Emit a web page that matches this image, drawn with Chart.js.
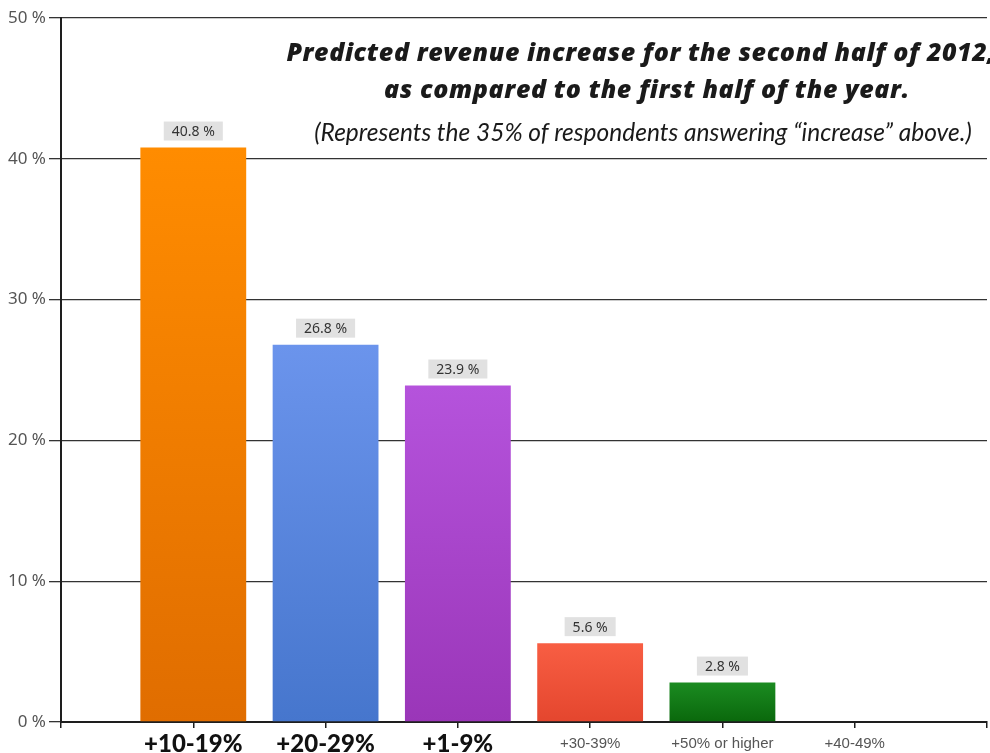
<!DOCTYPE html>
<html>
<head>
<meta charset="utf-8">
<title>Predicted revenue increase</title>
<script src="https://cdn.jsdelivr.net/npm/chart.js@4/dist/chart.umd.min.js"></script>
<style>
  html, body { margin: 0; padding: 0; background: #fff; }
  #wrap { position: relative; width: 990px; height: 753px; overflow: hidden; }
  #revChart { position: absolute; left: 0; top: 0; }
  .note { position: absolute; left: 150px; width: 990px; text-align: center; white-space: nowrap; color: #1a1a1a; font-style: italic; }
  .note.big { font-family: "Open Sans", Lato, sans-serif; font-weight: 800; font-size: 25px; letter-spacing: 0.6px; }
  #line1 { top: 34px; left: 146px; }
  #line2 { top: 71px; left: 152px; }
  #line3 { top: 117px; left: 148px; font-family: Lato, "Open Sans", sans-serif; font-size: 24.5px; font-weight: 400; }
</style>
</head>
<body>
<div id="wrap">
  <canvas id="revChart" width="990" height="753"></canvas>
  <div class="note big" id="line1">Predicted revenue increase for the second half of 2012,</div>
  <div class="note big" id="line2">as compared to the first half of the year.</div>
  <div class="note" id="line3">(Represents the 35% of respondents answering “increase” above.)</div>
</div>
<script>
    // Ranges of expected increase, in the order they are plotted
    const ranges = ['+10-19%', '+20-29%', '+1-9%', '+30-39%', '+50% or higher', '+40-49%'];
    // share of respondents (%)
    const shares = [40.8, 26.8, 23.9, 5.6, 2.8, 0];
    // the three biggest groups get the large bold tick labels
    const bigLabels = [true, true, true, false, false, false];
    const yTicks = [0, 10, 20, 30, 40, 50];

    // top / bottom colours of each bar's gradient
    const topColors = ['#ff8c00', '#6b94ec', '#b553dc', '#f85e43', '#1b8b21'];
    const bottomColors = ['#e06d00', '#4676cd', '#9a36b8', '#e4462e', '#0a680c'];

    function barFill(ctx) {
        const chart = ctx.chart;
        const area = chart.chartArea;
        if (!area || ctx.type !== 'data') return topColors[0];
        const i = ctx.dataIndex;
        const yTop = chart.scales.y.getPixelForValue(shares[i]);
        const g = chart.ctx.createLinearGradient(0, yTop, 0, area.bottom);
        g.addColorStop(0, topColors[i % topColors.length]);
        g.addColorStop(1, bottomColors[i % bottomColors.length]);
        return g;
    }

    // grey boxes with the value over each bar
    const valueBoxes = {
        id: 'valueBoxes',
        afterDatasetsDraw(chart) {
            const ctx = chart.ctx;
            const meta = chart.getDatasetMeta(0);
            ctx.save();
            ctx.font = '14px "Noto Sans", "DejaVu Sans", sans-serif';
            ctx.textAlign = 'center';
            ctx.textBaseline = 'middle';
            meta.data.forEach((bar, i) => {
                if (!shares[i]) return;
                const txt = shares[i].toFixed(1) + ' %';
                const w = ctx.measureText(txt).width + 16;
                const h = 19;
                const bottom = bar.y - 7;
                ctx.fillStyle = '#e1e1e1';
                ctx.fillRect(bar.x - w / 2, bottom - h, w, h);
                ctx.fillStyle = '#333';
                ctx.fillText(txt, bar.x, bottom - h / 2 + 1);
            });
            ctx.restore();
        }
    };

    const data = {
        datasets: [{
            label: 'Revenue increase',
            data: shares.map((v, i) => ({ x: i + 1, y: v })),
            backgroundColor: barFill,
            borderWidth: 0,
            barPercentage: 0.8,
            categoryPercentage: 1.0,
        }]
    };

    const config = {
        type: 'bar',
        data: data,
        options: {
            responsive: false,
            animation: false,
            layout: { padding: { top: 18, right: 0, left: 0, bottom: 0 } },
            plugins: {
                legend: { display: false },
                tooltip: { enabled: false },
                title: { display: false }
            },
            scales: {
                x: {
                    type: 'linear',
                    min: 0,
                    max: 7,
                    offset: false,
                    afterFit: s => { s.height = 31; },
                    afterBuildTicks: s => {
                        s.ticks = [0, 1, 2, 3, 4, 5, 6, 7].map(v => ({ value: v }));
                    },
                    border: { display: true, color: '#1e1e1e', width: 2 },
                    grid: {
                        offset: false,
                        drawOnChartArea: false,
                        drawTicks: true,
                        tickLength: 6,
                        color: '#1e1e1e',
                        lineWidth: 1.5
                    },
                    ticks: {
                        autoSkip: false,
                        maxRotation: 0,
                        padding: 3,
                        callback: v => ranges[v - 1] || '',
                        color: ctx => bigLabels[ctx.index - 1] ? '#111' : '#555',
                        font: ctx => bigLabels[ctx.index - 1]
                            ? { family: 'Lato, "Open Sans", sans-serif', size: 24, weight: '900', lineHeight: 1.1 }
                            : { family: '"Liberation Sans Narrow", "Liberation Sans", sans-serif', size: 15, weight: 'normal', lineHeight: 1.75 }
                    }
                },
                y: {
                    min: 0,
                    max: 50,
                    afterFit: s => { s.width = 61; },
                    afterBuildTicks: s => { s.ticks = yTicks.map(v => ({ value: v })); },
                    border: { display: true, color: '#1e1e1e', width: 2 },
                    grid: {
                        color: '#333',
                        lineWidth: 1.3,
                        tickLength: 12,
                        drawTicks: true
                    },
                    ticks: {
                        padding: 3,
                        color: '#555',
                        font: { family: '"Noto Sans", "DejaVu Sans", sans-serif', size: 17 },
                        callback: v => v + ' %'
                    }
                }
            }
        },
        plugins: [valueBoxes]
    };

    const revChart = new Chart(document.getElementById('revChart'), config);
</script>
</body>
</html>
